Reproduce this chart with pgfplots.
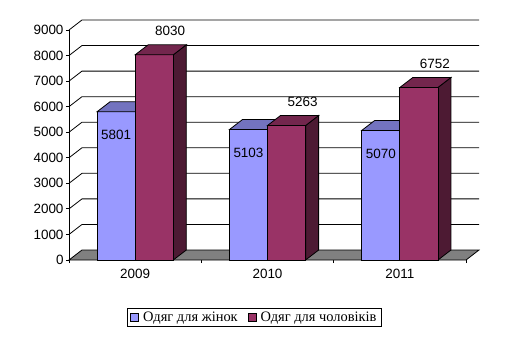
\documentclass[border=0pt]{standalone}
\usepackage{fontspec}
\setmainfont{Liberation Sans}
\newfontfamily\legfont{Liberation Serif}
\usepackage{pgfplots}
\pgfplotsset{compat=1.18}
\definecolor{wf}{RGB}{153,153,255}
\definecolor{wt}{RGB}{115,115,191}
\definecolor{ws}{RGB}{77,77,128}
\definecolor{mf}{RGB}{153,51,102}
\definecolor{mt}{RGB}{115,38,77}
\definecolor{ms}{RGB}{77,26,51}
\definecolor{floorc}{RGB}{128,128,128}
\newcommand{\ddx}{0.0983}
\newcommand{\ddy}{391}
% left, right, value, front colour, top colour, side colour
\newcommand{\threedbar}[6]{%
 \pgfmathsetmacro\xa{#1+\ddx}%
 \pgfmathsetmacro\xb{#2+\ddx}%
 \pgfmathsetmacro\vt{#3+\ddy}%
 \edef\tmpplot{\noexpand\addplot[fill=#6,draw=black,line width=0.8pt,forget plot] coordinates {(#2,0) (\xb,\ddy) (\xb,\vt) (#2,#3)} -- cycle;}\tmpplot
 \edef\tmpplot{\noexpand\addplot[fill=#4,draw=black,line width=0.8pt,forget plot] coordinates {(#1,0) (#2,0) (#2,#3) (#1,#3)} -- cycle;}\tmpplot
 \edef\tmpplot{\noexpand\addplot[fill=#5,draw=black,line width=0.8pt,forget plot] coordinates {(#1,#3) (#2,#3) (\xb,\vt) (\xa,\vt)} -- cycle;}\tmpplot
}
\begin{document}
\begin{tikzpicture}
\useasboundingbox (-69bp,-79bp) rectangle (440bp,260bp);
\begin{axis}[
 at={(0,0)}, anchor=south west,
 scale only axis, width=410bp, height=240bp,
 xmin=-0.5, xmax=2.598, ymin=0, ymax=9391,
 clip=false,
 axis line style={draw=none},
 xtick={-0.5,0.5,1.5,2.5}, xticklabels={},
 extra x ticks={0,1,2}, extra x tick labels={2009,2010,2011},
 extra x tick style={major tick length=0pt, xticklabel style={yshift=-6bp}},
 ytick={0,1000,...,9000},
 tick align=outside, major tick length=3bp,
 xtick pos=bottom, ytick pos=left,
 tick style={black, line width=0.8pt},
 ticklabel style={font=\fontsize{13.5}{15}\selectfont},
 yticklabel style={xshift=1bp},
 /pgf/number format/assume math mode=true,
 /pgf/number format/1000 sep={},
 legend style={at={(0.4524,-0.2396)}, anchor=center, draw=black, line width=0.8pt,
   font=\legfont\fontsize{14.5}{16}\selectfont, inner xsep=3bp, inner ysep=1.5bp,
   /tikz/every odd column/.append style={column sep=2bp},
   /tikz/every even column/.append style={column sep=8bp}},
 legend columns=2,
 legend image code/.code={\draw[#1,line width=0.8pt] (0bp,-4bp) rectangle (8bp,4bp);},
]
% floor
\addplot[fill=floorc, draw=black, line width=0.8pt, forget plot] coordinates {(-0.5,0) (2.5,0) (2.598,391) (-0.402,391)} -- cycle;
% back wall gridlines and left wall diagonals
\pgfplotsinvokeforeach{1,...,9}{
 \addplot[black, line width=0.8pt, forget plot] coordinates {(-0.5,#1000) (-0.402,#1391) (2.598,#1391)};
}
% front value axis
\addplot[black, line width=0.8pt, forget plot] coordinates {(-0.5,0) (-0.5,9000)};
% bars
\threedbar{-0.288}{0}{5801}{wf}{wt}{ws}
\threedbar{0}{0.288}{8030}{mf}{mt}{ms}
\threedbar{0.712}{1.0}{5103}{wf}{wt}{ws}
\threedbar{1.0}{1.288}{5263}{mf}{mt}{ms}
\threedbar{1.712}{2.0}{5070}{wf}{wt}{ws}
\threedbar{2.0}{2.288}{6752}{mf}{mt}{ms}
% data labels
\addplot[draw=none, forget plot, nodes near coords, point meta=explicit symbolic,
  nodes near coords style={anchor=center, yshift=-23bp, font=\fontsize{13.5}{15}\selectfont}]
  coordinates {(-0.144,5801)[5801] (0.856,5103)[5103] (1.856,5070)[5070]};
\addplot[draw=none, forget plot, nodes near coords, point meta=explicit symbolic,
  nodes near coords style={anchor=center, xshift=3bp, yshift=14bp, font=\fontsize{13.5}{15}\selectfont}]
  coordinates {(0.242,8421)[8030] (1.242,5654)[5263] (2.242,7143)[6752]};
\addlegendimage{fill=wf, draw=black}
\addlegendentry{Одяг для жінок}
\addlegendimage{fill=mf, draw=black}
\addlegendentry{Одяг для чоловіків}
\end{axis}
\end{tikzpicture}
\end{document}
